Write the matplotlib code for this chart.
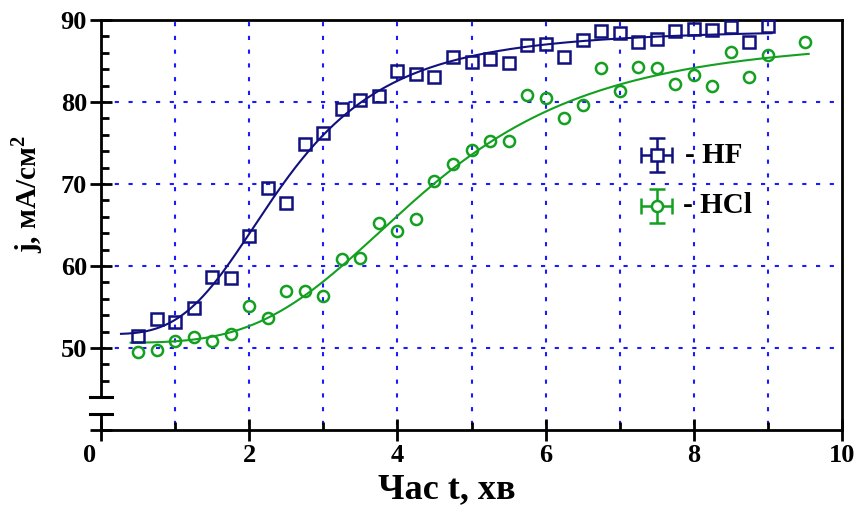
# -*- coding: utf-8 -*-

import numpy as np
import matplotlib.pyplot as plt
from matplotlib.ticker import FixedLocator
import matplotlib.transforms as mtransforms

plt.rcParams['font.family'] = ['Liberation Serif', 'DejaVu Serif']
plt.rcParams['font.weight'] = 'bold'
plt.rcParams['mathtext.fontset'] = 'custom'
plt.rcParams['mathtext.rm'] = 'Liberation Serif:bold'
plt.rcParams['mathtext.bf'] = 'Liberation Serif:bold'

# точки
hf_t = [0.5, 0.75, 1.0, 1.25, 1.5, 1.75, 2.0, 2.25, 2.5, 2.75, 3.0, 3.25,
        3.5, 3.75, 4.0, 4.25, 4.5, 4.75, 5.0, 5.25, 5.5, 5.75, 6.0, 6.25,
        6.5, 6.75, 7.0, 7.25, 7.5, 7.75, 8.0, 8.25, 8.5, 8.75, 9.0]
hf_j = [51.5, 53.5, 53.2, 54.9, 58.6, 58.5, 63.7, 69.5, 67.7, 74.9, 76.2, 79.2,
        80.3, 80.7, 83.8, 83.4, 83.1, 85.5, 84.9, 85.2, 84.7, 86.9, 87.1, 85.5,
        87.6, 88.7, 88.4, 87.3, 87.7, 88.7, 88.9, 88.8, 89.2, 87.3, 89.3]

hcl_t = [0.5, 0.75, 1.0, 1.25, 1.5, 1.75, 2.0, 2.25, 2.5, 2.75, 3.0, 3.25,
         3.5, 3.75, 4.0, 4.25, 4.5, 4.75, 5.0, 5.25, 5.5, 5.75, 6.0, 6.25,
         6.5, 6.75, 7.0, 7.25, 7.5, 7.75, 8.0, 8.25, 8.5, 8.75, 9.0, 9.5]
hcl_j = [49.5, 49.7, 50.8, 51.3, 50.8, 51.65, 55.1, 53.7, 57.0, 56.9, 56.3, 60.9,
         61.0, 65.3, 64.3, 65.7, 70.4, 72.5, 74.2, 75.2, 75.2, 80.9, 80.5, 78.1,
         79.6, 84.1, 81.4, 84.3, 84.1, 82.2, 83.3, 81.9, 86.1, 83.0, 85.7, 87.35]

x_major = [0, 2, 4, 6, 8, 10]
x_minor = [1, 3, 5, 7, 9]
y_major = [40, 50, 60, 70, 80, 90]
y_labels = ['', '50', '60', '70', '80', '90']
y_minor = [46, 48, 52, 54, 56, 58, 62, 64, 66, 68, 72, 74, 76, 78, 82, 84, 86, 88]
grid_x = [1, 2, 3, 4, 5, 6, 7, 8, 9]
grid_y = [50, 60, 70, 80]

c_hf = '#10107f'
c_hcl = '#13a020'
c_grid = '#1a1aff'


# логістична апроксимація (як в Origin): перебір x0, p і лінійна регресія для A1, A2
def logistic_fit(x, y):
    x = np.asarray(x)
    y = np.asarray(y)
    x0 = np.arange(0.5, 8.0, 0.02)[:, None, None]
    p = np.arange(0.5, 8.0, 0.02)[None, :, None]
    s = 1.0 / (1.0 + (x[None, None, :] / x0) ** p)
    sm = s.mean(axis=2, keepdims=True)
    ym = y.mean()
    b = ((s - sm) * (y - ym)).sum(axis=2, keepdims=True) / ((s - sm) ** 2).sum(axis=2, keepdims=True)
    a = ym - b * sm
    sse = ((a + b * s - y) ** 2).sum(axis=2)
    i, k = np.unravel_index(np.argmin(sse), sse.shape)
    A2 = a[i, k, 0]
    A1 = A2 + b[i, k, 0]
    return A1, A2, x0[i, 0, 0], p[0, k, 0]


def logistic(t, A1, A2, x0, p):
    return A2 + (A1 - A2) / (1.0 + (t / x0) ** p)


p_hf = logistic_fit(hf_t, hf_j)
p_hcl = logistic_fit(hcl_t, hcl_j)
t_hf = np.linspace(0.27, 9.05, 300)
t_hcl = np.linspace(0.4, 9.55, 300)

fig = plt.figure(figsize=(8.61, 5.09), dpi=100)
ax = fig.add_axes([0.1173, 0.1552, 0.8607, 0.8055])

ax.set_xlim(0, 10)
ax.set_ylim(40, 90)

# сітка
ax.vlines(grid_x, 40.6, 90, colors=c_grid, linewidth=1.5, linestyles=(0, (2, 4.6)), zorder=1)
ax.hlines(grid_y, 0, 10, colors=c_grid, linewidth=1.5, linestyles=(0, (2, 4.6)), zorder=1)

ax.plot(t_hf, logistic(t_hf, *p_hf), color=c_hf, lw=1.5, zorder=3)
ax.plot(t_hcl, logistic(t_hcl, *p_hcl), color=c_hcl, lw=1.5, zorder=3)
ax.plot(hf_t, hf_j, 's', ms=8, mfc='none', mec=c_hf, mew=1.8, zorder=4)
ax.plot(hcl_t, hcl_j, 'o', ms=8, mfc='none', mec=c_hcl, mew=1.8, zorder=4)

# легенда
ax.errorbar([7.5], [73.5], xerr=0.21, yerr=2.05, fmt='s', ms=8, mfc='white',
            mec=c_hf, mew=1.8, ecolor=c_hf, elinewidth=1.8, capsize=5.5, capthick=1.8, zorder=5)
ax.errorbar([7.5], [67.35], xerr=0.21, yerr=2.05, fmt='o', ms=8, mfc='white',
            mec=c_hcl, mew=1.8, ecolor=c_hcl, elinewidth=1.8, capsize=5.5, capthick=1.8, zorder=5)
ax.text(7.88, 73.5, '- HF', fontsize=21, va='center', ha='left', zorder=5)
ax.text(7.85, 67.35, '- HCl', fontsize=21, va='center', ha='left', zorder=5)

# осі з розривом
for side in ['top', 'right', 'bottom', 'left']:
    ax.spines[side].set_linewidth(2)
ax.spines['left'].set_bounds(44, 90)
ax.plot([0, 0], [40, 42], color='k', lw=2, clip_on=False, zorder=6)
ax.plot([-0.15, 0.15], [44, 44], color='k', lw=2.2, clip_on=False, zorder=6)
ax.plot([-0.15, 0.15], [42, 42], color='k', lw=2.2, clip_on=False, zorder=6)

ax.set_xticks(x_major)
ax.xaxis.set_minor_locator(FixedLocator(x_minor))
ax.set_yticks(y_major, y_labels)
ax.yaxis.set_minor_locator(FixedLocator(y_minor))
ax.tick_params(which='major', direction='inout', length=16, width=2, labelsize=19, pad=2)
ax.tick_params(which='minor', direction='in', length=6, width=2)

lbl0 = ax.xaxis.get_major_ticks()[0].label1
lbl0.set_transform(lbl0.get_transform() + mtransforms.ScaledTranslation(-8 / 72, 0, fig.dpi_scale_trans))

ax.set_xlabel('Час t, хв', fontsize=26, fontweight='bold')
ax.xaxis.label.set_va('center')
ax.xaxis.set_label_coords(0.467, -0.146)
ax.set_ylabel('j, мА/см$^{2}$', fontsize=21, fontweight='bold')
ax.yaxis.label.set_va('center')
ax.yaxis.set_label_coords(-0.1, 0.575)

fig.savefig('out.png', dpi=100)
